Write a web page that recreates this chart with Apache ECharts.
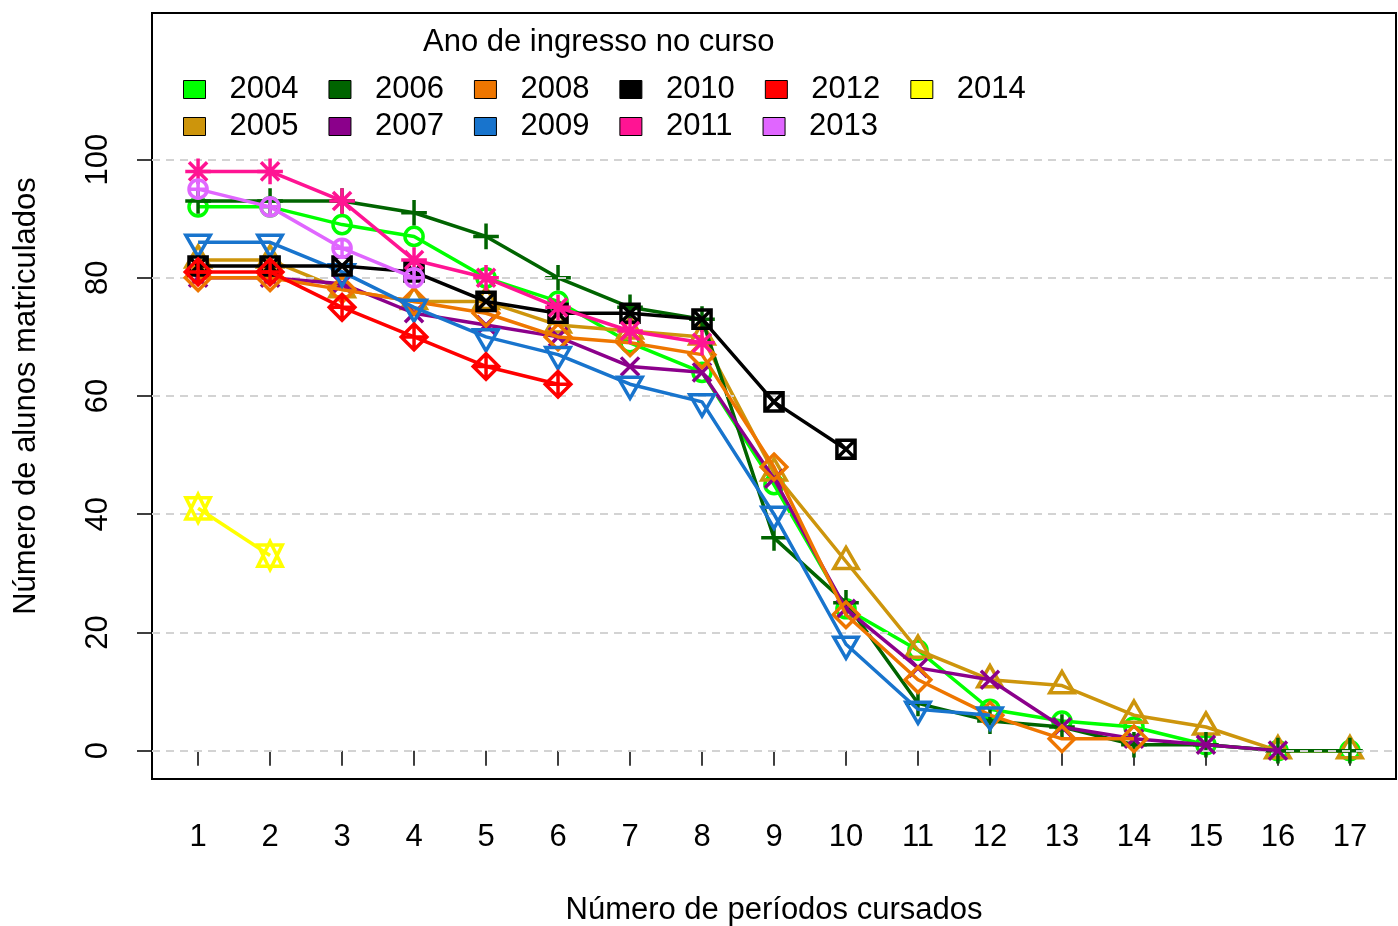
<!DOCTYPE html>
<html>
<head>
<meta charset="utf-8">
<title>Alunos matriculados por período</title>
<script src="https://cdn.jsdelivr.net/npm/echarts@6/dist/echarts.min.js"></script>
<style>
  html, body { margin: 0; padding: 0; background: #fff; }
  #main { width: 1398px; height: 926px; }
</style>
</head>
<body>
<div id="main"></div>
<script>
// períodos cursados (eixo x)
var periodos = [1, 2, 3, 4, 5, 6, 7, 8, 9, 10, 11, 12, 13, 14, 15, 16, 17];
var yTicks = [0, 20, 40, 60, 80, 100];

// número de alunos por ano de ingresso
var anos = ['2004', '2005', '2006', '2007', '2008', '2009', '2010', '2011', '2012', '2013', '2014'];
var a2004 = [92, 92, 89, 87, 80, 76, 69, 64, 45, 24, 17, 7, 5, 4, 1, 0, 0];
var a2005 = [83, 83, 78, 76, 76, 72, 71, 70, 47, 32, 17, 12, 11, 6, 4, 0, 0];
var a2006 = [93, 93, 93, 91, 87, 80, 75, 73, 36, 25, 8, 5, 4, 1, 1, 0, 0];
var a2007 = [80, 80, 79, 74, 72, 70, 65, 64, 46, 24, 14, 12, 4, 2, 1, 0];
var a2008 = [80, 80, 78, 76, 74, 70, 69, 67, 48, 23, 12, 6, 2, 2];
var a2009 = [86, 86, 81, 75, 70, 67, 62, 59, 40, 18, 7, 6];
var a2010 = [82, 82, 82, 81, 76, 74, 74, 73, 59, 51];
var a2011 = [98, 98, 93, 83, 80, 75, 71, 69];
var a2012 = [81, 81, 75, 70, 65, 62];
var a2013 = [95, 92, 85, 80];
var a2014 = [41, 33];
var valores = [a2004, a2005, a2006, a2007, a2008, a2009, a2010, a2011, a2012, a2013, a2014];

var cores = ['#00FF00', '#CD950C', '#006400', '#8B008B', '#EE7600', '#1874CD',
             '#000000', '#FF1493', '#FF0000', '#E066FF', '#FFFF00'];

// simbolos no estilo dos pch do R (1 a 11), unidade = raio do simbolo
var box = 'M-1.6,-1.6 M1.6,1.6 ';
var circ = function (r) { return 'M' + (-r) + ',0 A' + r + ',' + r + ' 0 1,1 ' + r + ',0 A' + r + ',' + r + ' 0 1,1 ' + (-r) + ',0 Z '; };
var simbolos = [
    box + circ(1),
    box + 'M0,-1.555 L1.347,0.778 L-1.347,0.778 Z',
    box + 'M-1.414,0 L1.414,0 M0,-1.414 L0,1.414',
    box + 'M-1,-1 L1,1 M-1,1 L1,-1',
    box + 'M0,-1.414 L1.414,0 L0,1.414 L-1.414,0 Z',
    box + 'M0,1.555 L1.347,-0.778 L-1.347,-0.778 Z',
    box + 'M-1,-1 L1,-1 L1,1 L-1,1 Z M-1,-1 L1,1 M-1,1 L1,-1',
    box + 'M-1,-1 L1,1 M-1,1 L1,-1 M-1.414,0 L1.414,0 M0,-1.414 L0,1.414',
    box + 'M0,-1.414 L1.414,0 L0,1.414 L-1.414,0 Z M-1.414,0 L1.414,0 M0,-1.414 L0,1.414',
    box + circ(1) + 'M-1,0 L1,0 M0,-1 L0,1',
    box + 'M0,-1.555 L1.347,1.167 L-1.347,1.167 Z M0,1.555 L1.347,-1.167 L-1.347,-1.167 Z'
];

var fonte = '"Liberation Sans", Arial, Helvetica, sans-serif';

var chart = echarts.init(document.getElementById('main'));

var series = [{
    name: 'grade',
    type: 'line',
    data: [],
    z: 1,
    silent: true,
    markLine: {
        silent: true,
        symbol: 'none',
        label: { show: false },
        lineStyle: { color: '#d3d3d3', type: [8, 6], width: 2 },
        data: yTicks.map(function (v) { return { yAxis: v }; })
    }
}];
anos.forEach(function (ano, i) {
    series.push({
        name: ano,
        type: 'line',
        z: 2 + i,
        data: valores[i].map(function (v, j) { return [periodos[j], v]; }),
        symbol: 'path://' + simbolos[i],
        symbolSize: 29,
        symbolKeepAspect: true,
        lineStyle: { color: cores[i], width: 3.5 },
        itemStyle: { color: 'rgba(0,0,0,0)', borderColor: cores[i], borderWidth: 3.5 },
        emphasis: { disabled: true }
    });
});

function legenda(lista, topo) {
    return {
        top: topo,
        left: 178,
        orient: 'horizontal',
        icon: 'rect',
        itemWidth: 22,
        itemHeight: 18,
        itemGap: 30,
        selectedMode: false,
        textStyle: { fontFamily: fonte, fontSize: 31, color: '#000', padding: [0, 0, 0, 19] },
        data: lista.map(function (ano) {
            var i = anos.indexOf(ano);
            return { name: ano, itemStyle: { color: cores[i], borderColor: '#000', borderWidth: 1 } };
        })
    };
}

chart.setOption({
    animation: false,
    title: {
        text: 'Ano de ingresso no curso',
        left: 418,
        top: 22,
        textStyle: { fontFamily: fonte, fontSize: 31, fontWeight: 'normal', color: '#000' }
    },
    legend: [
        legenda(['2004', '2006', '2008', '2010', '2012', '2014'], 69),
        legenda(['2005', '2007', '2009', '2011', '2013'], 106)
    ],
    grid: {
        left: 152, right: 2, top: 13, bottom: 147,
        outerBoundsMode: 'none',
        containLabel: false,
        show: true, borderColor: '#000', borderWidth: 2
    },
    xAxis: {
        type: 'value',
        min: 0.36,
        max: 17.64,
        name: 'Número de períodos cursados',
        nameLocation: 'middle',
        nameGap: 116,
        nameTextStyle: { fontFamily: fonte, fontSize: 31, color: '#000' },
        axisLine: { show: false },
        axisTick: { show: true, length: 15, customValues: periodos, lineStyle: { color: '#000', width: 1.5 } },
        axisLabel: { customValues: periodos, margin: 43, fontFamily: fonte, fontSize: 31, color: '#000' },
        splitLine: { show: false }
    },
    yAxis: {
        type: 'value',
        min: -4.8,
        max: 124.8,
        name: 'Número de alunos matriculados',
        nameLocation: 'middle',
        nameGap: 110,
        nameTextStyle: { fontFamily: fonte, fontSize: 31, color: '#000' },
        axisLine: { show: false },
        axisTick: { show: true, length: 15, customValues: yTicks, lineStyle: { color: '#000', width: 1.5 } },
        axisLabel: { customValues: yTicks, rotate: 90, margin: 38, fontFamily: fonte, fontSize: 31, color: '#000' },
        splitLine: { show: false }
    },
    series: series
});
</script>
</body>
</html>
